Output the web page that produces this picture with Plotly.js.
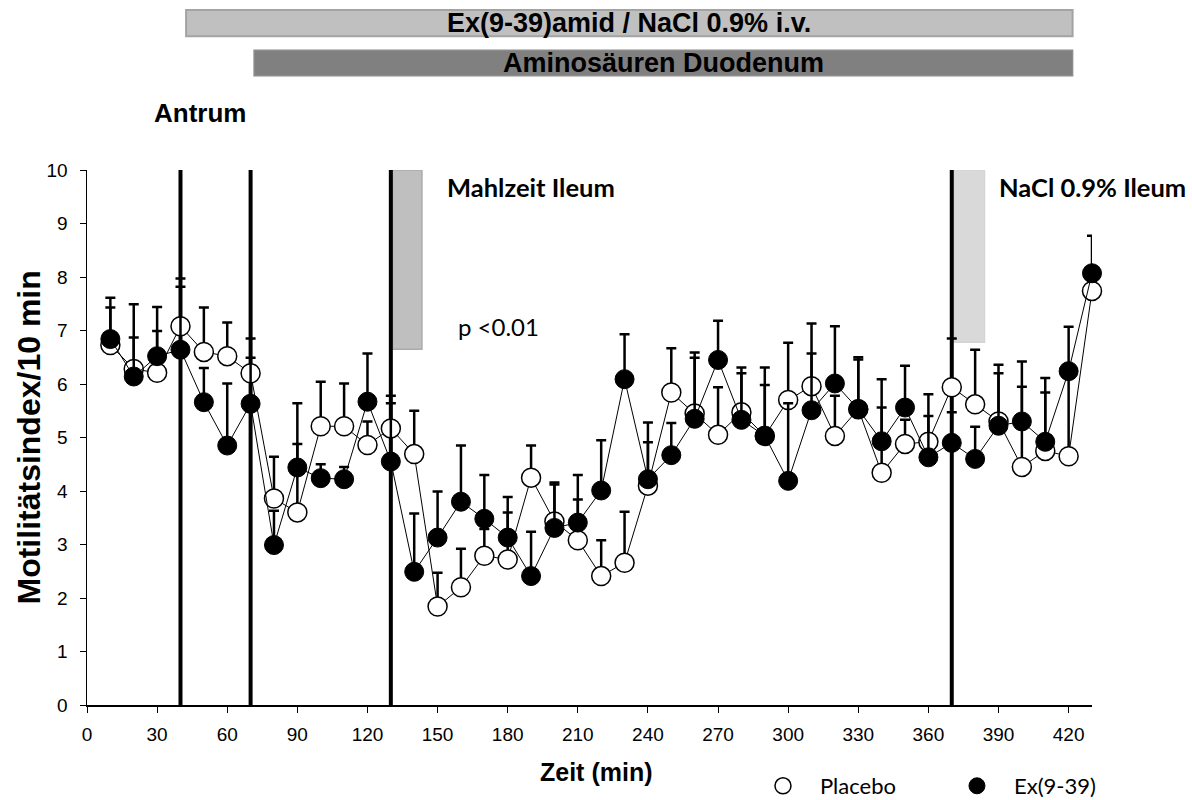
<!DOCTYPE html>
<html>
<head>
<meta charset="utf-8">
<script src="https://cdn.plot.ly/plotly-3.0.1.min.js"></script>
<style>html,body{margin:0;padding:0;background:#fff;}#chart{width:1192px;height:800px;}</style>
</head>
<body>
<div id="chart"></div>
<script>
// ---- data ----
const time = [10,20,30,40,50,60,70,80,90,100,110,120,130,140,150,160,170,180,190,200,210,220,230,240,250,260,270,280,290,300,310,320,330,340,350,360,370,380,390,400,410,420,430];
const placebo = [6.73,6.28,6.21,7.08,6.60,6.52,6.20,3.86,3.60,5.21,5.21,4.86,5.17,4.69,1.84,2.20,2.79,2.72,4.25,3.43,3.08,2.41,2.66,4.10,5.84,5.45,5.05,5.47,5.03,5.70,5.96,5.03,5.53,4.34,4.88,4.92,5.94,5.62,5.30,4.45,4.75,4.65,7.74];
const placeboSE = [0.70,1.21,1.23,0.89,0.83,0.63,0.65,0.78,1.28,0.83,0.80,0.44,0.61,0.81,0.63,0.72,0.50,0.88,0.60,0.69,0.76,0.67,0.95,0.81,0.83,1.14,0.89,0.84,0.95,1.07,1.17,0.75,0.97,1.22,0.45,0.89,0.91,1.02,0.90,1.50,1.09,1.55,0.36];
const ex939 = [6.84,6.14,6.52,6.64,5.66,4.85,5.63,2.99,4.44,4.24,4.22,5.67,4.55,2.49,3.13,3.80,3.48,3.13,2.41,3.31,3.41,4.01,6.09,4.22,4.67,5.35,6.45,5.33,5.03,4.19,5.51,6.01,5.53,4.93,5.56,4.63,4.90,4.60,5.22,5.30,4.92,6.24,8.07];
const ex939SE = [0.77,0.73,0.47,1.18,0.64,1.16,0.86,0.64,1.20,0.26,0.23,0.90,1.09,1.09,0.86,1.05,0.82,0.76,0.83,0.85,0.89,0.94,0.84,1.06,0.60,1.14,0.73,0.87,1.28,1.45,1.06,1.07,0.93,1.16,0.78,0.77,0.57,0.60,1.14,1.12,1.19,0.83,0.70];
const xTicks = [0,30,60,90,120,150,180,210,240,270,300,330,360,390,420];
const yTicks = [0,1,2,3,4,5,6,7,8,9,10];
const seriesNames = ['Placebo','Ex(9-39)'];
// event lines (min)
const events = [40,70,130,370];
// ileal infusion periods (min) and box lower bound
const ilealStart = [130.7,370.8];
const ilealEnd = [143.3,384];
const ilealLow = [6.65,6.78];
const ilealLabels = ['Mahlzeit Ileum','NaCl 0.9% Ileum'];
// top treatment bars (min)
const treatStart = [42.4,71.5];
const treatEnd = [421.7,421.7];
const treatLabels = ['Ex(9-39)amid / NaCl 0.9% i.v.','Aminosäuren Duodenum'];

const arial = 'Liberation Sans, Arial, sans-serif';
const calibri = 'Lato, Noto Sans, sans-serif';
const zeros = time.map(() => 0);

const traces = [
  {
    x: time, y: placebo, type: 'scatter', mode: 'lines+markers', name: seriesNames[0], showlegend: false,
    line: {color: '#000', width: 1},
    marker: {symbol: 'circle', size: 19, color: '#fff', line: {color: '#000', width: 1.5}},
    error_y: {type: 'data', symmetric: false, array: placeboSE, arrayminus: zeros, color: '#000', thickness: 2.5, width: 5},
    cliponaxis: false
  },
  {
    x: time, y: ex939, type: 'scatter', mode: 'lines+markers', name: seriesNames[1], showlegend: false,
    line: {color: '#000', width: 1},
    marker: {symbol: 'circle', size: 19, color: '#000', line: {color: '#000', width: 1}},
    error_y: {type: 'data', symmetric: false, array: ex939SE, arrayminus: zeros, color: '#000', thickness: 2.5, width: 5},
    cliponaxis: false
  },
  {
    x: [null], y: [null], type: 'scatter', mode: 'markers', name: seriesNames[0], showlegend: true,
    marker: {symbol: 'circle', size: 18, color: '#fff', line: {color: '#000', width: 1.5}}
  },
  {
    x: [null], y: [null], type: 'scatter', mode: 'markers', name: seriesNames[1], showlegend: true,
    marker: {symbol: 'circle', size: 18, color: '#000', line: {color: '#000', width: 1}}
  }
];

const shapes = [];
ilealStart.forEach((s, i) => {
  shapes.push({type: 'rect', xref: 'x', yref: 'y', x0: s, x1: ilealEnd[i], y0: ilealLow[i], y1: 10,
    fillcolor: i === 0 ? '#bfbfbf' : '#d9d9d9', line: {color: i === 0 ? '#ababab' : '#d4d4d4', width: 1.5}, layer: 'below'});
});
events.forEach(e => {
  shapes.push({type: 'line', xref: 'x', yref: 'y', x0: e, x1: e, y0: 0, y1: 10, line: {color: '#000', width: 4}, layer: 'below'});
});
// treatment bars above plot
shapes.push({type: 'rect', xref: 'x', yref: 'paper', x0: treatStart[0], x1: treatEnd[0], y0: 1.250, y1: 1.299,
  fillcolor: '#c0c0c0', line: {color: '#a3a3a3', width: 2}});
shapes.push({type: 'rect', xref: 'x', yref: 'paper', x0: treatStart[1], x1: treatEnd[1], y0: 1.176, y1: 1.224,
  fillcolor: '#808080', line: {color: '#8c8c8c', width: 1.5}});

const annotations = [
  {text: '<b>' + treatLabels[0] + '</b>', xref: 'x', yref: 'paper', x: (treatStart[0] + treatEnd[0]) / 2, y: 1.2745,
    showarrow: false, xanchor: 'center', yanchor: 'middle', font: {family: arial, size: 27, color: '#000'}},
  {text: '<b>' + treatLabels[1] + '</b>', xref: 'x', yref: 'paper', x: (treatStart[1] + treatEnd[1]) / 2, y: 1.200,
    showarrow: false, xanchor: 'center', yanchor: 'middle', font: {family: arial, size: 27, color: '#000'}},
  {text: '<b>Antrum</b>', xref: 'paper', yref: 'paper', x: 0.0647, y: 1.1065, showarrow: false,
    xanchor: 'left', yanchor: 'middle', font: {family: arial, size: 26, color: '#000'}},
  {text: '<b>' + ilealLabels[0] + '</b>', xref: 'x', yref: 'y', x: 153.2, y: 9.68, showarrow: false,
    xanchor: 'left', yanchor: 'middle', font: {family: calibri, size: 25.5, color: '#000'}},
  {text: '<b>' + ilealLabels[1] + '</b>', xref: 'x', yref: 'y', x: 389.4, y: 9.68, showarrow: false,
    xanchor: 'left', yanchor: 'middle', font: {family: calibri, size: 25.5, color: '#000'}},
  {text: 'p <0.01', xref: 'x', yref: 'y', x: 157.9, y: 7.08, showarrow: false,
    xanchor: 'left', yanchor: 'middle', font: {family: calibri, size: 24, color: '#000'}},
  {text: '<b>Zeit (min)</b>', xref: 'paper', yref: 'paper', x: 0.5065, y: -0.125, showarrow: false,
    xanchor: 'center', yanchor: 'middle', font: {family: arial, size: 25, color: '#000'}},
  {text: '<b>Motilitätsindex/10 min</b>', xref: 'paper', yref: 'paper', x: -0.0587, y: 0.5, showarrow: false,
    textangle: -90, xanchor: 'center', yanchor: 'middle', font: {family: arial, size: 32, color: '#000'}}
];

const layout = {
  width: 1192, height: 800,
  margin: {l: 87, r: 100, t: 170, b: 95, pad: 0, autoexpand: false},
  paper_bgcolor: '#fff', plot_bgcolor: '#fff',
  showlegend: true,
  legend: {orientation: 'h', x: 0.6557, xanchor: 'left', y: -0.1514, yanchor: 'middle',
    font: {family: calibri, size: 22, color: '#000'}, itemwidth: 64, entrywidth: 115, entrywidthmode: 'pixels',
    bgcolor: 'rgba(0,0,0,0)', borderwidth: 0, tracegroupgap: 0},
  xaxis: {range: [0, 430], tickvals: xTicks, ticktext: xTicks.map(String), showgrid: false, zeroline: false,
    showline: true, linecolor: '#000', linewidth: 1.5, ticks: 'outside', ticklen: 6, tickwidth: 1, tickcolor: '#000',
    tickfont: {family: arial, size: 19, color: '#000'}, ticklabelstandoff: 6, fixedrange: true},
  yaxis: {range: [0, 10], tickvals: yTicks, ticktext: yTicks.map(String), showgrid: false, zeroline: false,
    showline: true, linecolor: '#000', linewidth: 1.5, ticks: 'outside', ticklen: 6, tickwidth: 1, tickcolor: '#000',
    tickfont: {family: arial, size: 19, color: '#000'}, ticklabelstandoff: 8, fixedrange: true},
  shapes: shapes,
  annotations: annotations
};

Plotly.newPlot('chart', traces, layout, {displayModeBar: false, staticPlot: true});
</script>
</body>
</html>
